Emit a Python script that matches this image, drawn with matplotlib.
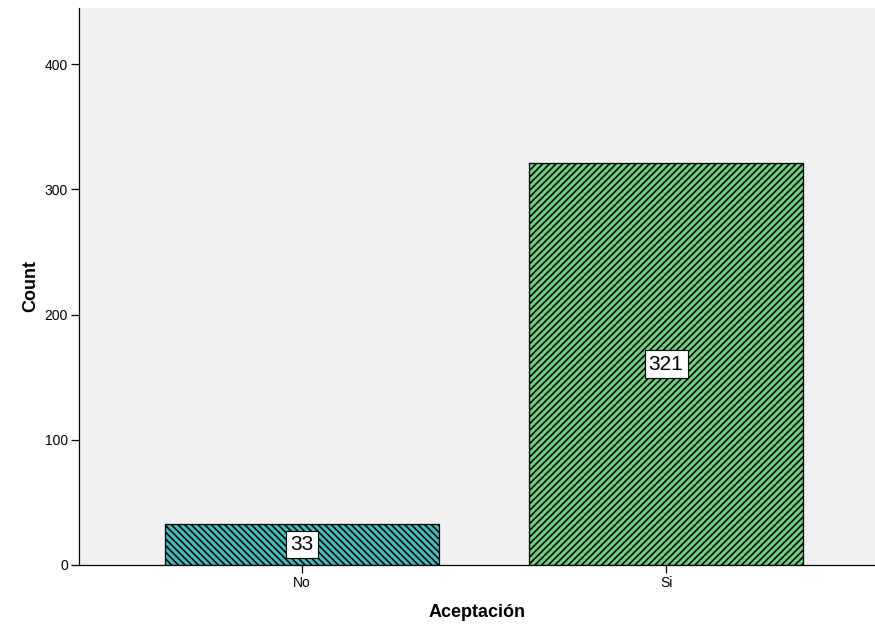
import matplotlib
matplotlib.use("Agg")
import matplotlib.pyplot as plt

categories = ["No", "Si"]
counts = [33, 321]
bar_colors = ["#3ec1c2", "#6dd67c"]
hatches = ["\\" * 5, "/" * 5]

plt.rcParams["font.family"] = ["Liberation Sans", "DejaVu Sans"]
plt.rcParams["hatch.linewidth"] = 1.2

fig = plt.figure(figsize=(8.75, 6.24), dpi=100)
ax = fig.add_axes([0.0903, 0.0946, 0.9097, 0.8926])
ax.set_facecolor("#f0f0f0")

xs = range(len(categories))
bars = ax.bar(xs, counts, width=0.753, color=bar_colors, edgecolor="black",
              linewidth=0.9, zorder=2)
for b, h in zip(bars, hatches):
    b.set_hatch(h)

for x, v in zip(xs, counts):
    ax.text(x, v / 2, str(v), ha="center", va="center", fontsize=15, zorder=3,
            bbox=dict(boxstyle="square,pad=0.2", facecolor="white",
                      edgecolor="black", linewidth=0.8))

ax.set_xlim(-0.613, 1.574)
ax.set_ylim(0, 445)
ax.set_yticks([0, 100, 200, 300, 400])
ax.set_xticks(list(xs))
ax.set_xticklabels(categories)
ax.tick_params(axis="both", labelsize=10, length=6, width=0.9, direction="out", pad=2)

for side in ["top", "right"]:
    ax.spines[side].set_visible(False)
for side in ["left", "bottom"]:
    ax.spines[side].set_linewidth(0.9)

ax.set_ylabel("Count", fontsize=13, fontweight="bold", labelpad=4)
ax.set_xlabel("Aceptación", fontsize=13, fontweight="bold", labelpad=10)

fig.savefig("out.png", dpi=100)
